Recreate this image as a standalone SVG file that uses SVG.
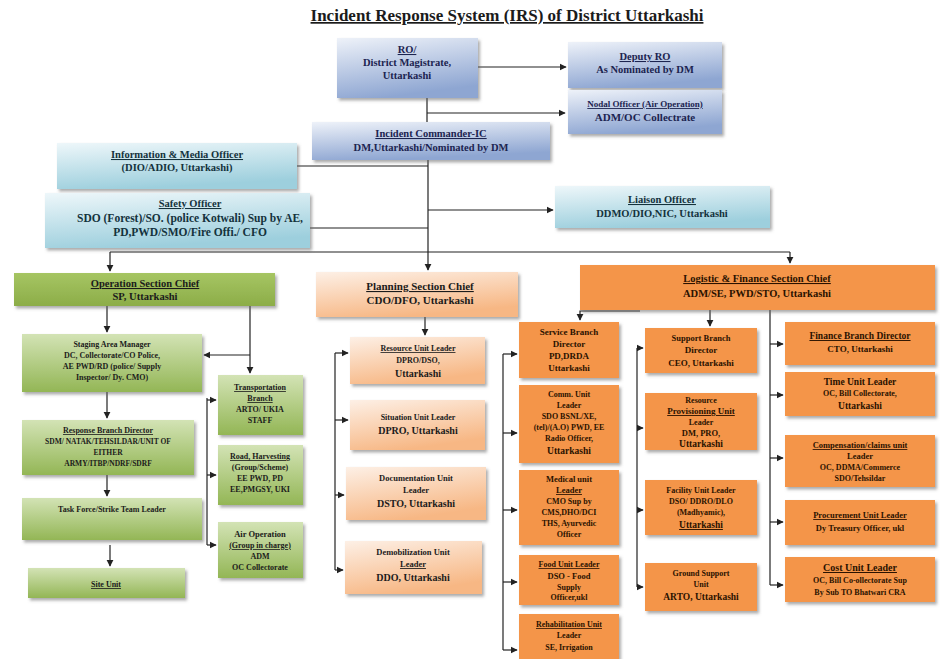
<svg xmlns="http://www.w3.org/2000/svg" width="943" height="659" viewBox="0 0 943 659">
<defs>
<linearGradient id="gBlue" x1="0" y1="0" x2="0.3" y2="1"><stop offset="0" stop-color="#eef2f9"/><stop offset="1" stop-color="#8ea6d2"/></linearGradient>
<linearGradient id="gCyan" x1="0" y1="0" x2="0.3" y2="1"><stop offset="0" stop-color="#eef7fa"/><stop offset="1" stop-color="#9dcfdd"/></linearGradient>
<linearGradient id="gGreenH" x1="0" y1="0" x2="0" y2="1"><stop offset="0" stop-color="#a6c563"/><stop offset="1" stop-color="#8cad48"/></linearGradient>
<linearGradient id="gGreen" x1="0" y1="0" x2="0" y2="1"><stop offset="0" stop-color="#d3e3b5"/><stop offset="1" stop-color="#93b655"/></linearGradient>
<linearGradient id="gPeach" x1="0" y1="0" x2="0.4" y2="1"><stop offset="0" stop-color="#fdf0e6"/><stop offset="1" stop-color="#f7b784"/></linearGradient>
<filter id="sh" x="-10%" y="-10%" width="125%" height="135%"><feDropShadow dx="2" dy="2.5" stdDeviation="1.5" flood-color="#666" flood-opacity="0.55"/></filter>
<marker id="ar" viewBox="0 0 10 10" refX="9" refY="5" markerWidth="6" markerHeight="6" orient="auto"><path d="M0,0 L10,5 L0,10 z" fill="#222"/></marker>
<style>
.t{font-family:"Liberation Serif","Times New Roman",serif;font-weight:bold;text-anchor:middle;font-size:9px;fill:#1b1b1b}
.b{fill:#1c2450}
.c{fill:#14323c}
.o{fill:#2a1200}
.u{text-decoration:underline}
.L{font-size:10.5px}
.blue{fill:url(#gBlue);filter:url(#sh)}
.cyan{fill:url(#gCyan);filter:url(#sh)}
.gh{fill:url(#gGreenH);filter:url(#sh)}
.gr{fill:url(#gGreen);filter:url(#sh)}
.pe{fill:url(#gPeach);filter:url(#sh)}
.or{fill:#f4954a;filter:url(#sh)}
.ln{stroke:#222;stroke-width:1.2;fill:none}
.la{stroke:#222;stroke-width:1.2;fill:none;marker-end:url(#ar)}
</style>
</defs>
<rect width="943" height="659" fill="#ffffff"/>
<text class="t u" x="507" y="21" style="font-size:17px">Incident Response System (IRS) of District Uttarkashi</text>

<g id="connectors">
<path class="la" d="M478,67 H566"/>
<path class="ln" d="M427,98 V122"/>
<path class="la" d="M427,113 H565"/>
<path class="ln" d="M428,160 V252"/>
<path class="ln" d="M297,166 H428"/>
<path class="ln" d="M310,228 H428"/>
<path class="la" d="M428,210 H553"/>
<path class="ln" d="M110,252 H790"/>
<path class="la" d="M110,252 V271"/>
<path class="la" d="M428,252 V270"/>
<path class="la" d="M790,252 V263"/>
<path class="la" d="M107,306 V332"/>
<path class="la" d="M250,306 V373"/>
<path class="la" d="M250,355 H204"/>
<path class="la" d="M107,392 V418"/>
<path class="la" d="M107,475 V496"/>
<path class="la" d="M110,545 V566"/>
<path class="ln" d="M207,398 V545"/>
<path class="la" d="M207,400 H216"/>
<path class="la" d="M207,475 H216"/>
<path class="la" d="M207,545 H216"/>
<path class="la" d="M425,317 V335"/>
<path class="ln" d="M335,353 V570"/>
<path class="la" d="M335,353 H348"/>
<path class="la" d="M335,420 H348"/>
<path class="la" d="M335,495 H344"/>
<path class="la" d="M335,570 H343"/>
<path class="ln" d="M503,354 V650"/>
<path class="la" d="M503,354 H517"/>
<path class="la" d="M503,433 H517"/>
<path class="la" d="M503,510 H517"/>
<path class="la" d="M503,582 H517"/>
<path class="la" d="M503,650 H517"/>
<path class="la" d="M640,311 H580 V320"/>
<path class="la" d="M710,310 V326"/>
<path class="ln" d="M637,348 V587"/>
<path class="la" d="M637,348 H643"/>
<path class="la" d="M637,428 H643"/>
<path class="la" d="M637,510 H643"/>
<path class="la" d="M637,587 H643"/>
<path class="ln" d="M770,310 V585"/>
<path class="la" d="M770,344 H783"/>
<path class="la" d="M770,395 H783"/>
<path class="la" d="M770,458 H783"/>
<path class="la" d="M770,522 H783"/>
<path class="la" d="M770,585 H783"/>
</g>

<g id="dm"><rect class="blue" x="337" y="38" width="141" height="60"/>
<text class="t b u L" x="407" y="53">RO/</text><text class="t b L" x="407" y="66">District Magistrate,</text><text class="t b L" x="407" y="79">Uttarkashi</text></g>
<g id="deputy-ro"><rect class="blue" x="568" y="42" width="154" height="46"/>
<text class="t b u L" x="645" y="60">Deputy RO</text><text class="t b L" x="645" y="73">As Nominated by DM</text></g>
<g id="nodal"><rect class="blue" x="568" y="90" width="154" height="44"/>
<text class="t b u" x="645" y="107">Nodal Officer (Air Operation)</text><text class="t b" x="645" y="121" style="font-size:11px">ADM/OC Collectrate</text></g>
<g id="ic"><rect class="blue" x="312" y="122" width="238" height="38"/>
<text class="t b u L" x="431" y="137">Incident Commander-IC</text><text class="t b L" x="431" y="151">DM,Uttarkashi/Nominated by DM</text></g>
<g id="info"><rect class="cyan" x="57" y="143" width="240" height="46"/>
<text class="t c u L" x="177" y="158">Information &amp; Media Officer</text><text class="t c L" x="177" y="171">(DIO/ADIO, Uttarkashi)</text></g>
<g id="safety"><rect class="cyan" x="45" y="193" width="265" height="55"/>
<text class="t c u L" x="190" y="207">Safety Officer</text><text class="t c" x="190" y="222" style="font-size:11.5px">SDO (Forest)/SO. (police Kotwali) Sup by AE,</text><text class="t c" x="190" y="236" style="font-size:11.5px">PD,PWD/SMO/Fire Offi./ CFO</text></g>
<g id="liaison"><rect class="cyan" x="555" y="186" width="215" height="42"/>
<text class="t c u L" x="662" y="203">Liaison Officer</text><text class="t c L" x="662" y="217">DDMO/DIO,NIC, Uttarkashi</text></g>

<g id="operation"><rect class="gh" x="14" y="273" width="261" height="33"/>
<text class="t u L" x="145" y="287">Operation Section Chief</text><text class="t L" x="145" y="300">SP, Uttarkashi</text></g>
<g id="staging"><rect class="gr" x="22" y="334" width="180" height="58"/>
<text class="t" x="112" y="347" style="font-size:8px">Staging Area Manager</text><text class="t" x="112" y="358" style="font-size:8px">DC, Collectorate/CO Police,</text><text class="t" x="112" y="369" style="font-size:8px">AE PWD/RD (police/ Supply</text><text class="t" x="112" y="380" style="font-size:8px">Inspector/ Dy. CMO)</text></g>
<g id="transport"><rect class="gr" x="218" y="375" width="85" height="60"/>
<text class="t u" x="260" y="390" style="font-size:8px">Transportation</text><text class="t u" x="260" y="401" style="font-size:8px">Branch</text><text class="t" x="260" y="412" style="font-size:8px">ARTO/ UKIA</text><text class="t" x="260" y="423" style="font-size:8px">STAFF</text></g>
<g id="response"><rect class="gr" x="22" y="420" width="172" height="55"/>
<text class="t u" x="108" y="433" style="font-size:8px">Response Branch Director</text><text class="t" x="108" y="444" style="font-size:7.5px">SDM/ NATAK/TEHSILDAR/UNIT OF</text><text class="t" x="108" y="455" style="font-size:7.5px">EITHER</text><text class="t" x="108" y="466" style="font-size:7.5px">ARMY/ITBP/NDRF/SDRF</text></g>
<g id="road"><rect class="gr" x="218" y="445" width="85" height="60"/>
<text class="t u" x="260" y="459" style="font-size:8px">Road, Harvesting</text><text class="t" x="260" y="470" style="font-size:8px">(Group/Scheme)</text><text class="t" x="260" y="481" style="font-size:8px">EE PWD, PD</text><text class="t" x="260" y="492" style="font-size:8px">EE,PMGSY, UKI</text></g>
<g id="taskforce"><rect class="gr" x="22" y="498" width="180" height="42"/>
<text class="t" x="112" y="512" style="font-size:8px">Task Force/Strike Team Leader</text></g>
<g id="air"><rect class="gr" x="218" y="522" width="85" height="56"/>
<text class="t" x="260" y="537" style="font-size:8.5px">Air Operation</text><text class="t u" x="260" y="548" style="font-size:8px">(Group in charge)</text><text class="t" x="260" y="559" style="font-size:8px">ADM</text><text class="t" x="260" y="570" style="font-size:8px">OC Collectorate</text></g>
<g id="site"><rect class="gr" x="28" y="568" width="157" height="30"/>
<text class="t u" x="106" y="587" style="font-size:8px">Site Unit</text></g>

<g id="planning"><rect class="pe" x="316" y="272" width="202" height="45"/>
<text class="t u" x="420" y="290" style="font-size:11px">Planning Section Chief</text><text class="t" x="420" y="304" style="font-size:11px">CDO/DFO, Uttarkashi</text></g>
<g id="resource"><rect class="pe" x="350" y="337" width="135" height="47"/>
<text class="t u" x="418" y="351" style="font-size:8px">Resource Unit Leader</text><text class="t" x="418" y="363" style="font-size:8px">DPRO/DSO,</text><text class="t" x="418" y="377" style="font-size:10px">Uttarkashi</text></g>
<g id="situation"><rect class="pe" x="350" y="400" width="135" height="50"/>
<text class="t" x="418" y="420" style="font-size:8px">Situation Unit Leader</text><text class="t" x="418" y="434" style="font-size:10px">DPRO, Uttarkashi</text></g>
<g id="documentation"><rect class="pe" x="346" y="467" width="140" height="53"/>
<text class="t" x="416" y="481" style="font-size:8.5px">Documentation Unit</text><text class="t" x="416" y="493" style="font-size:8.5px">Leader</text><text class="t" x="416" y="507" style="font-size:10px">DSTO, Uttarkashi</text></g>
<g id="demob"><rect class="pe" x="345" y="541" width="137" height="53"/>
<text class="t" x="413" y="555" style="font-size:8.5px">Demobilization Unit</text><text class="t u" x="413" y="567" style="font-size:8.5px">Leader</text><text class="t" x="413" y="581" style="font-size:10px">DDO, Uttarkashi</text></g>

<g id="logistic"><rect class="or" x="580" y="265" width="355" height="45"/>
<text class="t o u L" x="757" y="282">Logistic &amp; Finance Section Chief</text><text class="t o L" x="757" y="297">ADM/SE, PWD/STO, Uttarkashi</text></g>
<g id="service"><rect class="or" x="519" y="322" width="100" height="56"/>
<text class="t o" x="569" y="335">Service Branch</text><text class="t o" x="569" y="347">Director</text><text class="t o" x="569" y="359">PD,DRDA</text><text class="t o" x="569" y="371">Uttarkashi</text></g>
<g id="comm"><rect class="or" x="519" y="385" width="100" height="78"/>
<text class="t o" x="569" y="397" style="font-size:8px">Comm. Unit</text><text class="t o" x="569" y="408" style="font-size:8px">Leader</text><text class="t o" x="569" y="419" style="font-size:8px">SDO BSNL/XE,</text><text class="t o" x="569" y="430" style="font-size:8px">(tel)/(A.O) PWD, EE</text><text class="t o" x="569" y="441" style="font-size:8px">Radio Officer,</text><text class="t o" x="569" y="454" style="font-size:9.5px">Uttarkashi</text></g>
<g id="medical"><rect class="or" x="519" y="470" width="100" height="75"/>
<text class="t o" x="569" y="482" style="font-size:8.5px">Medical unit</text><text class="t o u" x="569" y="493" style="font-size:8.5px">Leader</text><text class="t o" x="569" y="504" style="font-size:8px">CMO Sup by</text><text class="t o" x="569" y="515" style="font-size:8px">CMS,DHO/DCI</text><text class="t o" x="569" y="526" style="font-size:8px">THS, Ayurvedic</text><text class="t o" x="569" y="537" style="font-size:8px">Officer</text></g>
<g id="food"><rect class="or" x="519" y="555" width="100" height="50"/>
<text class="t o u" x="569" y="567" style="font-size:8px">Food Unit Leader</text><text class="t o" x="569" y="579" style="font-size:8.5px">DSO - Food</text><text class="t o" x="569" y="590" style="font-size:8px">Supply</text><text class="t o" x="569" y="600" style="font-size:8px">Officer,ukl</text></g>
<g id="rehab"><rect class="or" x="519" y="614" width="100" height="45"/>
<text class="t o u" x="569" y="627" style="font-size:8px">Rehabilitation Unit</text><text class="t o" x="569" y="638" style="font-size:8px">Leader</text><text class="t o" x="569" y="650" style="font-size:8px">SE, Irrigation</text></g>

<g id="support"><rect class="or" x="645" y="328" width="112" height="45"/>
<text class="t o" x="701" y="341" style="font-size:8.5px">Support Branch</text><text class="t o" x="701" y="353">Director</text><text class="t o" x="701" y="366">CEO, Uttarkashi</text></g>
<g id="provisioning"><rect class="or" x="645" y="393" width="112" height="57"/>
<text class="t o" x="701" y="403" style="font-size:8px">Resource</text><text class="t o u" x="701" y="414">Provisioning Unit</text><text class="t o" x="701" y="425" style="font-size:8px">Leader</text><text class="t o" x="701" y="436" style="font-size:8.5px">DM, PRO,</text><text class="t o" x="701" y="447" style="font-size:9.5px">Uttarkashi</text></g>
<g id="facility"><rect class="or" x="645" y="480" width="112" height="55"/>
<text class="t o" x="701" y="493" style="font-size:8px">Facility Unit Leader</text><text class="t o" x="701" y="504" style="font-size:8px">DSO/ DDRO/DLO</text><text class="t o" x="701" y="515" style="font-size:8px">(Madhyamic),</text><text class="t o u" x="701" y="528" style="font-size:9.5px">Uttarkashi</text></g>
<g id="ground"><rect class="or" x="645" y="563" width="112" height="48"/>
<text class="t o" x="701" y="576" style="font-size:8px">Ground Support</text><text class="t o" x="701" y="587" style="font-size:8px">Unit</text><text class="t o" x="701" y="600" style="font-size:9.5px">ARTO, Uttarkashi</text></g>

<g id="finance"><rect class="or" x="785" y="322" width="150" height="43"/>
<text class="t o u" x="860" y="339" style="font-size:9.5px">Finance Branch  Director</text><text class="t o" x="860" y="352">CTO, Uttarkashi</text></g>
<g id="time"><rect class="or" x="785" y="372" width="150" height="44"/>
<text class="t o" x="860" y="385" style="font-size:9.5px">Time Unit Leader</text><text class="t o" x="860" y="396" style="font-size:8px">OC, Bill Collectorate,</text><text class="t o" x="860" y="409" style="font-size:9.5px">Uttarkashi</text></g>
<g id="compensation"><rect class="or" x="785" y="435" width="150" height="52"/>
<text class="t o u" x="860" y="448" style="font-size:8.5px">Compensation/claims unit</text><text class="t o" x="860" y="459" style="font-size:8.5px">Leader</text><text class="t o" x="860" y="470" style="font-size:8px">OC, DDMA/Commerce</text><text class="t o" x="860" y="481" style="font-size:8px">SDO/Tehsildar</text></g>
<g id="procurement"><rect class="or" x="785" y="500" width="150" height="45"/>
<text class="t o u" x="860" y="518" style="font-size:8.5px">Procurement Unit Leader</text><text class="t o" x="860" y="531" style="font-size:8.5px">Dy Treasury Officer, ukl</text></g>
<g id="cost"><rect class="or" x="785" y="557" width="150" height="45"/>
<text class="t o u" x="860" y="571" style="font-size:10px">Cost Unit Leader</text><text class="t o" x="860" y="583" style="font-size:8px">OC, Bill Co-ollectorate Sup</text><text class="t o" x="860" y="595" style="font-size:8px">By Sub TO Bhatwari CRA</text></g>
</svg>
